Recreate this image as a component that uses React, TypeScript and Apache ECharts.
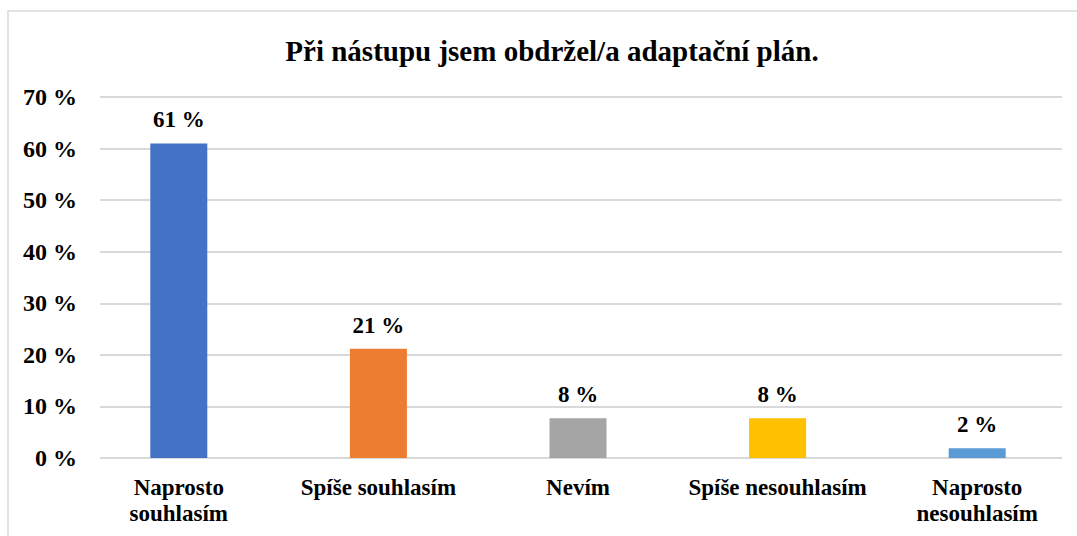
import React, { useEffect, useRef } from "react";
import * as echarts from "echarts";

const titleText = "Při nástupu jsem obdržel/a adaptační plán.";
const categories = [
  "Naprosto\nsouhlasím",
  "Spíše souhlasím",
  "Nevím",
  "Spíše nesouhlasím",
  "Naprosto\nnesouhlasím",
];
const values = [61, 21.2, 7.7, 7.7, 1.9];
const barColors = ["#4472C4", "#ED7D31", "#A5A5A5", "#FFC000", "#5B9BD5"];
const yMin = 0;
const yMax = 70;
const yInterval = 10;

const FONT = "Liberation Serif";

export default function App() {
  const ref = useRef<HTMLDivElement>(null);
  useEffect(() => {
    if (!ref.current) return;
    const chart = echarts.init(ref.current, null, { renderer: "svg" });
    chart.setOption({
      animation: false,
      backgroundColor: "#ffffff",
      textStyle: { fontFamily: FONT },
      title: {
        text: titleText,
        left: 547,
        top: 31,
        textAlign: "center",
        textStyle: { fontFamily: FONT, fontWeight: "bold", fontSize: 29, color: "#000" },
      },
      graphic: [
        {
          type: "rect",
          shape: { x: 8, y: 11, width: 1200, height: 700 },
          style: { fill: "none", stroke: "#d9d9d9", lineWidth: 1.5 },
          silent: true,
          z: -10,
        },
      ],
      grid: [
        { left: 100, width: 962, top: 97, height: 361 },
        { left: 79, width: 1004, top: 97, height: 361 },
      ],
      xAxis: [
        { gridIndex: 0, type: "category", data: categories, show: false },
        {
          gridIndex: 1,
          type: "category",
          data: categories,
          axisLine: { show: false },
          axisTick: { show: false },
          axisLabel: {
            margin: 16,
            color: "#000",
            fontFamily: FONT,
            fontWeight: "bold",
            fontSize: 23,
            lineHeight: 26,
            interval: 0,
          },
        },
      ],
      yAxis: [
        {
          gridIndex: 0,
          type: "value",
          min: yMin,
          max: yMax,
          interval: yInterval,
          axisLine: { show: false },
          axisTick: { show: false },
          splitLine: { lineStyle: { color: "#d9d9d9", width: 2 } },
          axisLabel: {
            margin: 23,
            color: "#000",
            fontFamily: FONT,
            fontWeight: "bold",
            fontSize: 24,
            formatter: (v: number) => `${v} %`,
          },
        },
        { gridIndex: 1, type: "value", min: yMin, max: yMax, interval: yInterval, show: false, splitLine: { show: false } },
      ],
      series: [
        {
          type: "bar",
          xAxisIndex: 1,
          yAxisIndex: 1,
          barWidth: 57,
          data: values.map((v, i) => ({ value: v, itemStyle: { color: barColors[i] } })),
          label: {
            show: true,
            position: "top",
            distance: 12,
            color: "#000",
            fontFamily: FONT,
            fontWeight: "bold",
            fontSize: 23,
            formatter: (p: any) => `${Math.round(p.value)} %`,
          },
        },
      ],
    });
    return () => chart.dispose();
  }, []);
  return <div ref={ref} style={{ position: "fixed", left: 0, top: 0, width: 1077, height: 536 }} />;
}
